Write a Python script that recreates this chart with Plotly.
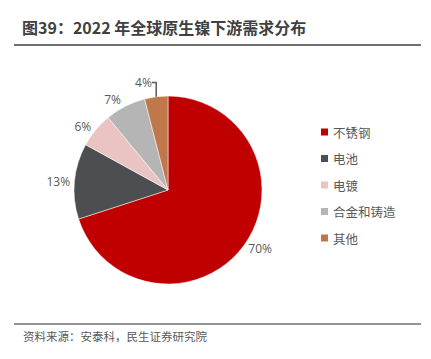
import plotly.graph_objects as go

categories = ["不锈钢", "电池", "电镀", "合金和铸造", "其他"]
values = [70, 13, 6, 7, 4]
colors = ["#C00000", "#4D4E51", "#EAC3C3", "#B5B5B5", "#C0784A"]

W, H = 431, 359
cx, cy, r = 168, 190, 94

fig = go.Figure(go.Pie(
    labels=categories,
    values=values,
    sort=False,
    direction="clockwise",
    rotation=0,
    marker=dict(colors=colors, line=dict(color="white", width=0.5)),
    texttemplate="%{value}%",
    textposition="outside",
    textfont=dict(family="Open Sans, Noto Sans CJK SC", size=12, color="#595959"),
    hoverinfo="label+value",
    domain=dict(x=[(cx - r) / W, (cx + r) / W],
                y=[1 - (cy + r) / H, 1 - (cy - r) / H]),
    showlegend=False,
))

shapes = [
    dict(type="line", xref="paper", yref="paper",
         x0=14 / W, x1=421 / W, y0=1 - 45 / H, y1=1 - 45 / H,
         line=dict(color="#707070", width=2)),
    dict(type="line", xref="paper", yref="paper",
         x0=14 / W, x1=421 / W, y0=1 - 324 / H, y1=1 - 324 / H,
         line=dict(color="#707070", width=1.5)),
]
annotations = [
    dict(text="<b>图39：2022 年全球原生镍下游需求分布</b>", xref="paper", yref="paper",
         x=20 / W, y=1 - 27 / H, xanchor="left", yanchor="middle", showarrow=False,
         font=dict(family="Noto Sans CJK SC", size=16, color="#404040")),
    dict(text="资料来源：安泰科，民生证券研究院", xref="paper", yref="paper",
         x=21 / W, y=1 - 336 / H, xanchor="left", yanchor="middle", showarrow=False,
         font=dict(family="Noto Sans CJK SC", size=11.5, color="#595959")),
]

# legend
leg_x, leg_y0, leg_dy, sq = 321, 132, 26.5, 7
for i, (name, col) in enumerate(zip(categories, colors)):
    yc = leg_y0 + i * leg_dy
    shapes.append(dict(type="rect", xref="paper", yref="paper",
                       x0=leg_x / W, x1=(leg_x + sq) / W,
                       y0=1 - (yc + sq / 2) / H, y1=1 - (yc - sq / 2) / H,
                       fillcolor=col, line=dict(width=0)))
    annotations.append(dict(text=name, xref="paper", yref="paper",
                            x=(leg_x + sq + 3) / W, y=1 - yc / H,
                            xanchor="left", yanchor="middle", showarrow=False,
                            font=dict(family="Noto Sans CJK SC", size=12.5, color="#595959")))

fig.update_layout(
    width=W, height=H,
    margin=dict(l=0, r=0, t=0, b=0),
    paper_bgcolor="white", plot_bgcolor="white",
    font=dict(family="Noto Sans CJK SC", color="#595959"),
    shapes=shapes,
    annotations=annotations,
)

fig.write_html("out.html", config={"displayModeBar": False},
               post_script="document.body.style.margin='0';")
